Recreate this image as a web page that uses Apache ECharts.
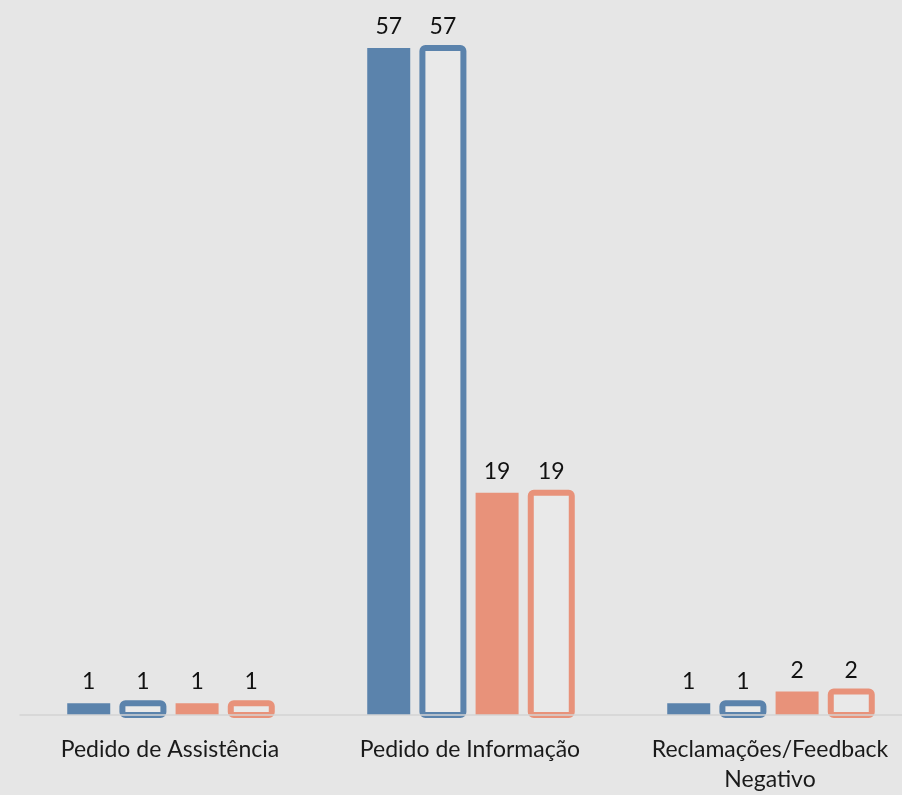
<!DOCTYPE html>
<html>
<head>
<meta charset="utf-8">
<script src="https://cdn.jsdelivr.net/npm/echarts@6/dist/echarts.min.js"></script>
<style>
  html, body { margin: 0; padding: 0; background: #e6e6e6; }
  #chart { width: 902px; height: 795px; }
</style>
</head>
<body>
<div id="chart"></div>
<script>
var categories = ['Pedido de Assistência', 'Pedido de Informação', 'Reclamações/Feedback\nNegativo'];
var blueFilled = [1, 57, 1];
var blueOutline = [1, 57, 1];
var salmonFilled = [1, 19, 2];
var salmonOutline = [1, 19, 2];

var BLUE = '#5b83ac';
var SALMON = '#e8927a';
var BAR_W = 43;
var GAP = 0.26;

var labelStyle = {
    show: true,
    position: 'top',
    distance: 10,
    color: '#111',
    fontSize: 23,
    fontFamily: 'Lato'
};

function barSeries(data, color) {
    return {
        type: 'bar',
        barWidth: BAR_W,
        barGap: (GAP * 100) + '%',
        data: data,
        itemStyle: { color: color },
        label: labelStyle
    };
}

// ECharts shrinks bordered bars to keep the stroke inside, so the hollow
// bars are drawn as a custom series with the stroke centred on the edges
function outlineSeries(data, color, slot) {
    return {
        type: 'custom',
        data: data.map(function (v, i) { return [i, v]; }),
        z: 3,
        renderItem: function (params, api) {
            var top = api.coord([api.value(0), api.value(1)]);
            var base = api.coord([api.value(0), 0]);
            var gap = BAR_W * GAP;
            var total = 4 * BAR_W + 3 * gap;
            var cx = top[0] - total / 2 + slot * (BAR_W + gap) + BAR_W / 2;
            var w = BAR_W - 2;
            return {
                type: 'rect',
                shape: { x: cx - w / 2, y: top[1], width: w, height: base[1] - top[1], r: 3 },
                style: { fill: 'rgba(255,255,255,0.12)', stroke: color, lineWidth: 6 }
            };
        }
    };
}

// invisible bars that only carry the labels of the hollow series
function ghostSeries(data) {
    return {
        type: 'bar',
        barWidth: BAR_W,
        barGap: (GAP * 100) + '%',
        data: data,
        itemStyle: { color: 'rgba(0,0,0,0)' },
        label: labelStyle
    };
}

var myChart = echarts.init(document.getElementById('chart'));
var option = {
    backgroundColor: '#e6e6e6',
    animation: false,
    grid: { left: 20, width: 900, top: 13, bottom: 80, outerBoundsMode: 'none', containLabel: false },
    xAxis: {
        type: 'category',
        data: categories,
        z: 5,
        axisLine: { lineStyle: { color: '#d4d4d4', width: 1.5 } },
        axisTick: { show: false },
        axisLabel: {
            color: '#1a1a1a',
            fontSize: 23,
            fontFamily: 'Lato',
            margin: 20,
            lineHeight: 30,
            interval: 0
        }
    },
    yAxis: {
        type: 'value',
        min: 0,
        max: 60,
        show: false,
        splitLine: { show: false }
    },
    series: [
        barSeries(blueFilled, BLUE),
        ghostSeries(blueOutline),
        barSeries(salmonFilled, SALMON),
        ghostSeries(salmonOutline),
        outlineSeries(blueOutline, BLUE, 1),
        outlineSeries(salmonOutline, SALMON, 3)
    ]
};
myChart.setOption(option);

window.addEventListener('resize', myChart.resize);
</script>
</body>
</html>
